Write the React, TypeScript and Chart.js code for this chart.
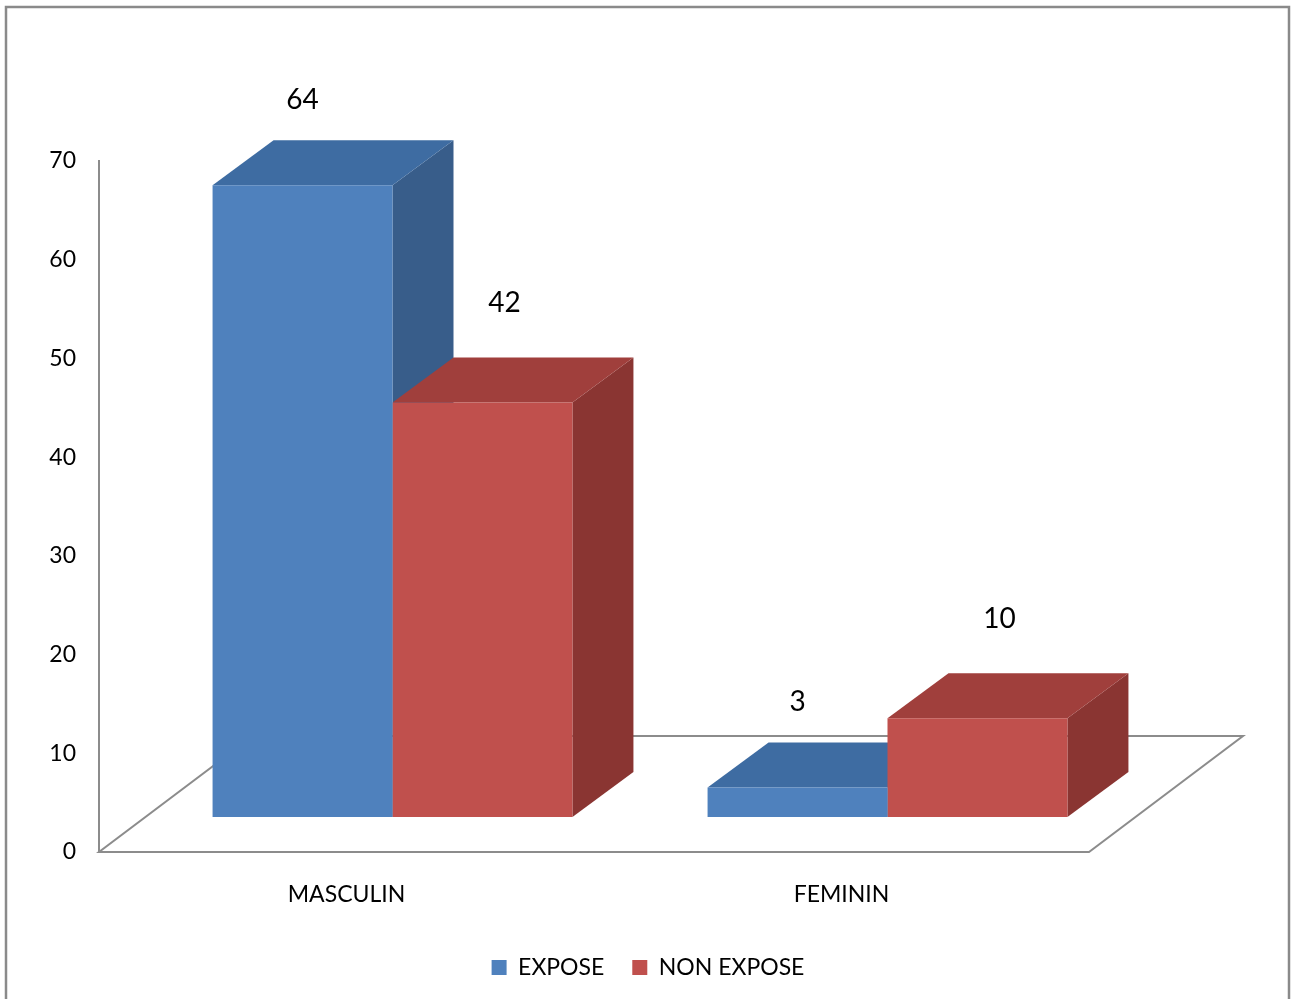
import React, { useEffect, useRef } from "react";
import { Chart, registerables } from "chart.js";

Chart.register(...registerables);

const categories = ["MASCULIN", "FEMININ"];
const seriesNames = ["EXPOSE", "NON EXPOSE"];
const exposeValues = [64, 3];
const nonExposeValues = [42, 10];
const yMin = 0;
const yMax = 70;
const yStep = 10;

const FRONT = ["#4F81BD", "#C0504D"];
const SIDE = ["#385D8A", "#8A3532"];
const TOP = ["#3E6CA2", "#A03F3C"];

const BAR_SHIFT = { x: 46, y: -35 };
const BAR_DEPTH = { x: 61, y: -45 };
const FLOOR_DEPTH = { x: 154, y: -116 };
const LABEL_OFFSET = [
  { x: 0, y: -85 },
  { x: 22, y: -99 },
];

const FONT = "Lato";

const threeD = {
  id: "threeD",
  beforeDraw(chart: any) {
    const ctx = chart.ctx;
    ctx.save();
    ctx.fillStyle = "#ffffff";
    ctx.fillRect(0, 0, chart.width, chart.height);
    ctx.strokeStyle = "#8a8a8a";
    ctx.lineWidth = 2.5;
    ctx.strokeRect(6, 7, 1283, 1100);
    ctx.restore();
  },
  beforeDatasetsDraw(chart: any) {
    const ctx = chart.ctx;
    const a = chart.chartArea;
    ctx.save();
    ctx.strokeStyle = "#8c8c8c";
    ctx.lineWidth = 2;
    ctx.beginPath();
    ctx.moveTo(a.left, a.bottom);
    ctx.lineTo(a.right, a.bottom);
    ctx.lineTo(a.right + FLOOR_DEPTH.x, a.bottom + FLOOR_DEPTH.y);
    ctx.lineTo(a.left + FLOOR_DEPTH.x, a.bottom + FLOOR_DEPTH.y);
    ctx.closePath();
    ctx.stroke();
    ctx.translate(BAR_SHIFT.x, BAR_SHIFT.y);
    chart.data.datasets.forEach((_ds: any, di: number) => {
      const meta = chart.getDatasetMeta(di);
      meta.data.forEach((el: any) => {
        const { x, y, base, width } = el.getProps(["x", "y", "base", "width"], true);
        const l = x - width / 2;
        const r = x + width / 2;
        const dx = BAR_DEPTH.x;
        const dy = BAR_DEPTH.y;
        ctx.fillStyle = SIDE[di];
        ctx.beginPath();
        ctx.moveTo(r, y);
        ctx.lineTo(r + dx, y + dy);
        ctx.lineTo(r + dx, base + dy);
        ctx.lineTo(r, base);
        ctx.closePath();
        ctx.fill();
        ctx.fillStyle = TOP[di];
        ctx.beginPath();
        ctx.moveTo(l, y);
        ctx.lineTo(l + dx, y + dy);
        ctx.lineTo(r + dx, y + dy);
        ctx.lineTo(r, y);
        ctx.closePath();
        ctx.fill();
      });
    });
  },
  afterDatasetsDraw(chart: any) {
    const ctx = chart.ctx;
    ctx.restore();
    ctx.save();
    ctx.fillStyle = "#000000";
    ctx.font = `28px ${FONT}`;
    ctx.textAlign = "center";
    ctx.textBaseline = "middle";
    chart.data.datasets.forEach((ds: any, di: number) => {
      const meta = chart.getDatasetMeta(di);
      meta.data.forEach((el: any, i: number) => {
        const { x, y } = el.getProps(["x", "y"], true);
        ctx.fillText(
          String(ds.data[i]),
          x + BAR_SHIFT.x + LABEL_OFFSET[di].x,
          y + BAR_SHIFT.y + LABEL_OFFSET[di].y
        );
      });
    });
    ctx.restore();
  },
};

export default function App() {
  const ref = useRef<HTMLCanvasElement>(null);
  useEffect(() => {
    const chart = new Chart(ref.current as HTMLCanvasElement, {
      type: "bar",
      data: {
        labels: categories,
        datasets: [
          {
            label: seriesNames[0],
            data: exposeValues,
            backgroundColor: FRONT[0],
            borderWidth: 0,
          },
          {
            label: seriesNames[1],
            data: nonExposeValues,
            backgroundColor: FRONT[1],
            borderWidth: 0,
          },
        ],
      },
      options: {
        responsive: false,
        animation: false,
        devicePixelRatio: 1,
        layout: { padding: { left: 0, right: 0, top: 161, bottom: 10 } },
        datasets: { bar: { categoryPercentage: 0.727, barPercentage: 1, clip: false as any } },
        plugins: {
          tooltip: { enabled: false },
          legend: {
            position: "bottom",
            labels: {
              boxWidth: 15,
              boxHeight: 15,
              padding: 28,
              color: "#000000",
              font: { family: FONT, size: 23 },
            },
          },
        },
        scales: {
          x: {
            grid: { display: false },
            border: { display: false },
            ticks: { color: "#000000", font: { family: FONT, size: 23 }, padding: 21 },
            afterFit: (s: any) => {
              s.height = 76;
            },
          },
          y: {
            min: yMin,
            max: yMax,
            grid: { display: false, drawTicks: false },
            border: { display: true, color: "#8c8c8c", width: 2 },
            ticks: { stepSize: yStep, color: "#000000", font: { family: FONT, size: 23 }, padding: 23 },
            afterFit: (s: any) => {
              s.width = 99;
            },
          },
          yRight: {
            position: "right",
            min: yMin,
            max: yMax,
            grid: { display: false, drawTicks: false },
            border: { display: false },
            ticks: { display: false },
            afterFit: (s: any) => {
              s.width = 207;
            },
          },
        },
      },
      plugins: [threeD],
    });
    return () => chart.destroy();
  }, []);
  return (
    <div style={{ position: "fixed", left: 0, top: 0, width: 1296, height: 999, background: "#ffffff" }}>
      <canvas ref={ref} width={1296} height={999} style={{ display: "block" }} />
    </div>
  );
}
